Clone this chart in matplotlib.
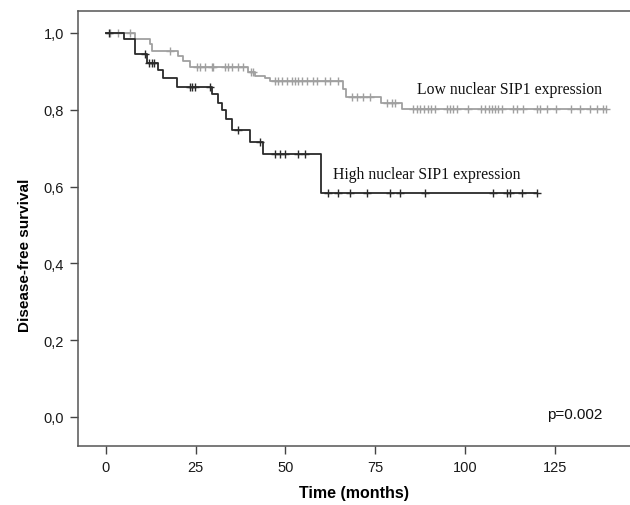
import numpy as np
import matplotlib
matplotlib.use("Agg")
import matplotlib.pyplot as plt

# Kaplan-Meier step curves (time in months, survival after step)
high_times = [0, 5.0, 8.0, 11.5, 14.6, 16.0, 19.7, 29.5, 31.2, 32.3, 33.5, 35.0, 40.1, 43.8, 60.0, 120.0]
high_surv = [1.0, 0.983, 0.944, 0.921, 0.904, 0.883, 0.860, 0.840, 0.818, 0.798, 0.776, 0.746, 0.715, 0.685, 0.583, 0.583]
high_censor = [0.7, 10.9, 12.0, 12.8, 13.4, 23.4, 24.0, 24.8, 29.0, 36.9, 42.9, 47.0, 48.5, 49.9,
               53.6, 55.4, 61.9, 64.7, 68.0, 72.6, 79.1, 81.9, 88.9, 107.9, 111.6, 112.5, 115.8, 120.0]

low_times = [0, 8.1, 12.3, 12.7, 20.1, 21.5, 23.4, 39.6, 41.5, 44.3, 45.7, 66.1, 67.0, 76.6, 82.5, 139.4]
low_surv = [1.0, 0.984, 0.971, 0.954, 0.941, 0.928, 0.911, 0.898, 0.889, 0.882, 0.874, 0.854, 0.832, 0.817, 0.803, 0.803]
low_censor = [1.0, 3.3, 6.7, 17.8, 25.3, 26.2, 27.6, 29.4, 29.9, 33.1, 34.1, 35.0, 36.9, 38.3, 40.5, 41.0,
              47.1, 48.0, 48.9, 50.3, 51.7, 52.6, 53.6, 54.5, 55.9, 57.7, 58.7, 61.0, 62.4, 64.7, 68.6,
              70.0, 71.7, 73.5, 78.2, 79.6, 80.5, 85.6, 86.6, 87.6, 88.6, 89.6, 90.6, 91.6, 94.9, 95.8,
              96.8, 97.7, 100.9, 104.6, 105.6, 106.6, 107.6, 108.4, 109.3, 110.2, 113.5, 114.4, 116.3,
              120.0, 120.9, 122.8, 125.5, 129.7, 132.0, 134.8, 136.7, 138.5, 139.4]

x_ticks = [0, 25, 50, 75, 100, 125]
y_ticks = [0.0, 0.2, 0.4, 0.6, 0.8, 1.0]


def surv_at(times, surv, t):
    # value of the step function at time t (right-continuous)
    idx = np.searchsorted(times, t, side="right") - 1
    return np.asarray(surv)[idx]


fig = plt.figure(figsize=(6.3, 5.06), dpi=100)
ax = fig.add_axes([78 / 630, 59 / 506, 552 / 630, 435 / 506])

curves = [
    (low_times, low_surv, low_censor, "#a0a0a0"),
    (high_times, high_surv, high_censor, "#2a2a2a"),
]
for times, surv, censor, color in curves:
    ax.step(times, surv, where="post", color=color, lw=1.3)
    ax.plot(censor, surv_at(times, surv, censor), ls="none", marker="+",
            ms=5.5, mew=1.0, color=color)

ax.text(86.6, 0.853, "Low nuclear SIP1 expression", family="Liberation Serif",
        fontsize=11.3, va="center", ha="left", color="#111111")
ax.text(63.3, 0.633, "High nuclear SIP1 expression", family="Liberation Serif",
        fontsize=11.3, va="center", ha="left", color="#111111")
ax.text(138.4, 0.008, "p=0.002", family="Liberation Sans", fontsize=11, va="center",
        ha="right", color="#111111")

ax.set_xlim(-7.8, 146)
ax.set_ylim(-0.0755, 1.057)
ax.set_xticks(x_ticks)
ax.set_yticks(y_ticks)
ax.set_yticklabels([f"{v:.1f}".replace(".", ",") for v in y_ticks])
ax.tick_params(direction="out", length=6, width=1, color="#444444",
               labelsize=10.5, labelcolor="#1a1a1a", pad=4)
for lab in ax.get_xticklabels() + ax.get_yticklabels():
    lab.set_family("Liberation Sans")

ax.spines["right"].set_visible(False)
for side in ["left", "top", "bottom"]:
    ax.spines[side].set_color("#555555")
    ax.spines[side].set_linewidth(1.1)

ax.set_xlabel("Time (months)", family="Liberation Sans", fontweight="bold", fontsize=11.5, labelpad=8)
ax.set_ylabel("Disease-free survival", family="Liberation Sans", fontweight="bold", fontsize=11)
ax.yaxis.set_label_coords(-0.084, 0.44)

fig.savefig("out.png", dpi=100)
